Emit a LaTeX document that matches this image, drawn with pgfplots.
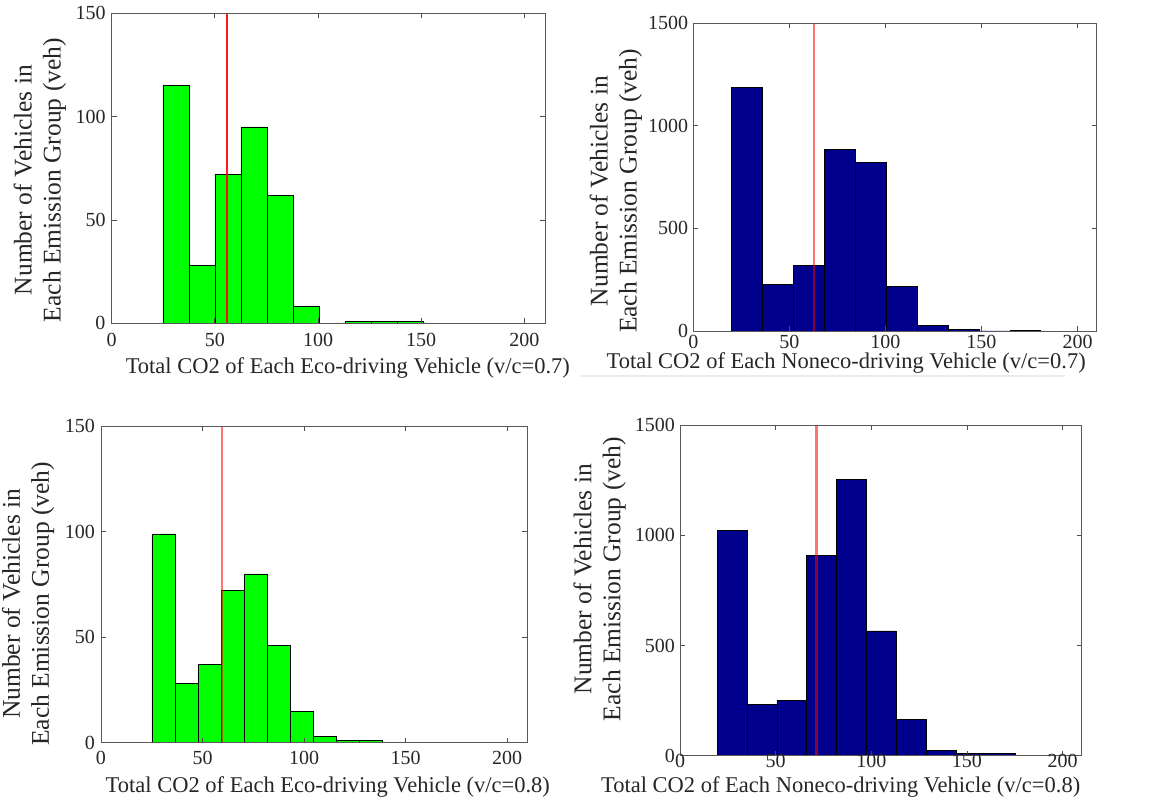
\documentclass[border=0pt]{standalone}
\usepackage{fontspec}
\setmainfont{Liberation Serif}
\usepackage{pgfplots}
\pgfplotsset{compat=1.18}
\definecolor{ecogreen}{RGB}{0,255,0}
\definecolor{nonblue}{RGB}{0,0,140}
\pgfplotsset{
  hist/.style={
    scale only axis, anchor=south west,
    xmin=0, xmax=210, ymin=0,
    xtick={0,50,100,150,200},
    axis line style={black!65, line width=0.9pt},
    tick style={black!70, line width=0.8pt},
    major tick length=5pt,
    xtick pos=both, ytick pos=both, tick align=inside,
    axis on top,
    tick label style={font=\fontsize{20}{24}\selectfont, text=black!85},
    xlabel style={font=\fontsize{22.5}{26}\selectfont, text=black!85},
    ylabel style={font=\fontsize{25.5}{29}\selectfont, text=black!85, align=center},
    /pgf/number format/assume math mode=true,
    /pgf/number format/1000 sep={},
    scaled ticks=false,
    xticklabel style={anchor=base, inner sep=0pt},
    yticklabel style={anchor=east, inner sep=0pt, xshift=-6pt},
    ylabel={Number of Vehicles in\\Each Emission Group (veh)},
  }
}
\begin{document}
\begin{tikzpicture}[x=1pt,y=1pt]
\useasboundingbox (0,0) rectangle (1172,805);
\draw[black!8, line width=2pt] (581,429.3) -- (1065,429.3);

% Panel 1: Eco-driving v/c=0.7
\begin{axis}[hist, at={(111.7pt,481.7pt)}, width=433.3pt, height=310pt,
  ymax=150, ytick={0,50,100,150},
  xticklabel style={yshift=-23pt},
  xlabel={Total CO2 of Each Eco-driving Vehicle (v/c=0.7)},
  xlabel style={at={(axis description cs:0.545,0)}, anchor=base, yshift=-50pt},
  ylabel style={at={(axis description cs:-0.1656,0.462)}, anchor=center}]
\addplot[ybar, bar width=12.6, fill=ecogreen, draw=black, line width=0.7pt] coordinates {
 (31.1,115) (43.7,28) (56.3,72) (68.9,95) (81.5,62) (94.1,8) (106.7,0) (119.3,1) (131.9,1) (144.5,1)};
\addplot[red, line width=2pt, opacity=0.9] coordinates {(56.1,0) (56.1,150)};
\end{axis}

% Panel 2: Noneco-driving v/c=0.7
\begin{axis}[hist, at={(693.3pt,474pt)}, width=403.4pt, height=307.7pt,
  ymax=1500, ytick={0,500,1000,1500},
  xticklabel style={yshift=-18pt},
  yticklabel style={xshift=1pt},
  xlabel={Total CO2 of Each Noneco-driving Vehicle (v/c=0.7)},
  xlabel style={at={(axis description cs:0.379,0)}, anchor=base, yshift=-38pt},
  ylabel style={at={(axis description cs:-0.192,0.455)}, anchor=center}]
\addplot[ybar, bar width=16.1, fill=nonblue, draw=black, line width=0.7pt] coordinates {
 (27.95,1188) (44.05,229) (60.15,318) (76.25,887) (92.35,822) (108.45,219) (124.55,26) (140.65,8) (156.75,0) (172.85,3)};
\addplot[red, line width=2.5pt, opacity=0.55] coordinates {(62.8,0) (62.8,1500)};
\end{axis}

% Panel 3: Eco-driving v/c=0.8
\begin{axis}[hist, at={(101pt,62.3pt)}, width=426.3pt, height=316.4pt,
  ymax=150, ytick={0,50,100,150},
  xticklabel style={yshift=-22pt},
  xlabel={Total CO2 of Each Eco-driving Vehicle (v/c=0.8)},
  xlabel style={at={(axis description cs:0.532,0)}, anchor=base, yshift=-50pt},
  ylabel style={at={(axis description cs:-0.171,0.439)}, anchor=center}]
\addplot[ybar, bar width=11.35, fill=ecogreen, draw=black, line width=0.7pt] coordinates {
 (30.775,99) (42.125,28) (53.475,37) (64.825,72) (76.175,80) (87.525,46) (98.875,15) (110.225,3) (121.575,1) (132.925,1)};
\addplot[red, line width=2.5pt, opacity=0.55] coordinates {(59.6,0) (59.6,150)};
\end{axis}

% Panel 4: Noneco-driving v/c=0.8
\begin{axis}[hist, at={(680pt,49.3pt)}, width=401.7pt, height=330.7pt,
  ymax=1500, ytick={0,500,1000,1500},
  xticklabel style={yshift=-12pt},
  yticklabel style={xshift=1pt},
  xlabel={Total CO2 of Each Noneco-driving Vehicle (v/c=0.8)},
  xlabel style={at={(axis description cs:0.4,0)}, anchor=base, yshift=-37pt},
  ylabel style={at={(axis description cs:-0.2,0.534)}, anchor=center}]
\addplot[ybar, bar width=15.6, fill=nonblue, draw=black, line width=0.7pt] coordinates {
 (27.3,1022) (42.9,231) (58.5,251) (74.1,907) (89.7,1252) (105.3,566) (120.9,163) (136.5,24) (152.1,10) (167.7,9)};
\addplot[red, line width=2.5pt, opacity=0.55] coordinates {(71.3,0) (71.3,1500)};
\end{axis}
\end{tikzpicture}
\end{document}
